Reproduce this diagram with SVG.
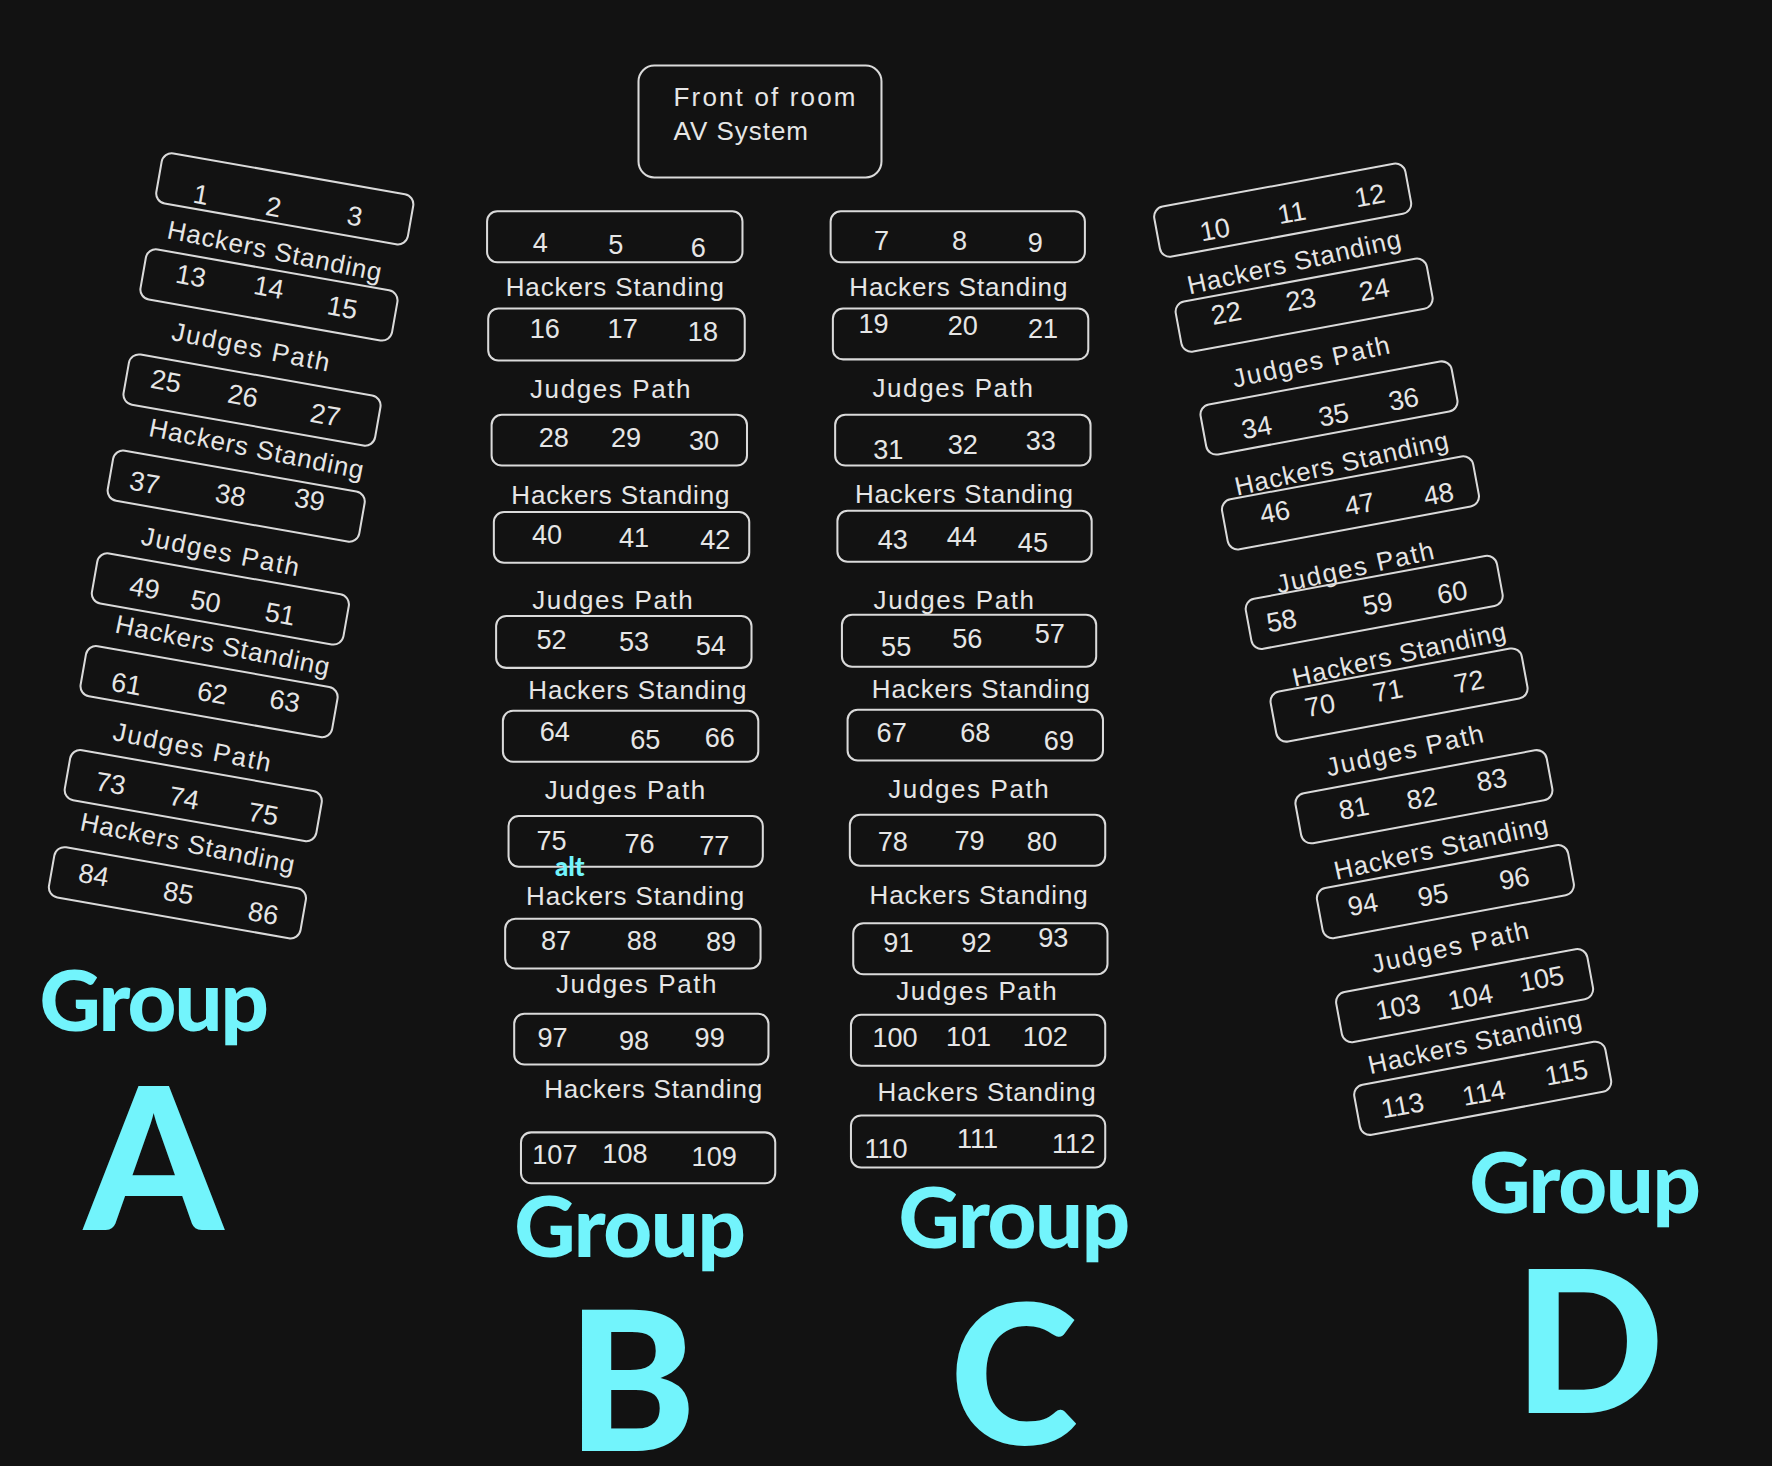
<svg xmlns="http://www.w3.org/2000/svg" width="1772" height="1466" viewBox="0 0 1772 1466">
<style>
.bx{fill:none;stroke:#dadada;stroke-width:1.8}
.n{font-family:"Liberation Sans","DejaVu Sans",sans-serif;font-size:24px;fill:#e6e6e6;text-anchor:middle;dominant-baseline:central}
.lb{font-family:"Liberation Sans","DejaVu Sans",sans-serif;font-size:23px;fill:#e6e6e6;text-anchor:middle;dominant-baseline:central}
.fr{font-family:"Liberation Sans","DejaVu Sans",sans-serif;font-size:23px;fill:#e6e6e6;dominant-baseline:central}
.g{font-family:"Lato","Liberation Sans",sans-serif;font-weight:900;fill:#72f4fc}
</style>
<rect width="1772" height="1466" fill="#121212"/>
<g id="connectors"/>
<g transform="scale(1.1301)">
<g id="front">
<rect class="bx" x="565" y="58" width="215" height="99" rx="14"/>
<text class="fr" x="596" y="86" textLength="161">Front of room</text>
<text class="fr" x="596" y="116" textLength="119">AV System</text>
</g>

<!-- Column B -->
<g id="b-4-6"><rect class="bx" x="431" y="187" width="226" height="45" rx="9"/><text class="n" x="478" y="215">4</text><text class="n" x="545" y="216">5</text><text class="n" x="618" y="219">6</text></g>
<g id="b-l1"><text class="lb" x="544" y="254" textLength="193">Hackers Standing</text></g>
<g id="b-16-18"><rect class="bx" x="432" y="273" width="227" height="46" rx="9"/><text class="n" x="482" y="291">16</text><text class="n" x="551" y="291">17</text><text class="n" x="622" y="293">18</text></g>
<g id="b-l2"><text class="lb" x="540" y="344" textLength="142">Judges Path</text></g>
<g id="b-28-30"><rect class="bx" x="435" y="367" width="226" height="45" rx="9"/><text class="n" x="490" y="387">28</text><text class="n" x="554" y="387">29</text><text class="n" x="623" y="390">30</text></g>
<g id="b-l3"><text class="lb" x="549" y="438" textLength="193">Hackers Standing</text></g>
<g id="b-40-42"><rect class="bx" x="437" y="453" width="226" height="45" rx="9"/><text class="n" x="484" y="473">40</text><text class="n" x="561" y="476">41</text><text class="n" x="633" y="477">42</text></g>
<g id="b-l4"><text class="lb" x="542" y="531" textLength="142">Judges Path</text></g>
<g id="b-52-54"><rect class="bx" x="439" y="545" width="226" height="46" rx="9"/><text class="n" x="488" y="566">52</text><text class="n" x="561" y="568">53</text><text class="n" x="629" y="571">54</text></g>
<g id="b-l5"><text class="lb" x="564" y="611" textLength="193">Hackers Standing</text></g>
<g id="b-64-66"><rect class="bx" x="445" y="629" width="226" height="45" rx="9"/><text class="n" x="491" y="647">64</text><text class="n" x="571" y="654">65</text><text class="n" x="637" y="653">66</text></g>
<g id="b-l6"><text class="lb" x="553" y="699" textLength="142">Judges Path</text></g>
<g id="b-75-77"><rect class="bx" x="450" y="722" width="225" height="45" rx="9"/><text class="n" x="488" y="744">75</text><text class="n" x="566" y="746">76</text><text class="n" x="632" y="748">77</text></g>
<g id="alt"><text x="491" y="775" font-family="Lato,'Liberation Sans',sans-serif" font-weight="900" font-size="23" fill="#72f4fc">alt</text></g>
<g id="b-l7"><text class="lb" x="562" y="793" textLength="193">Hackers Standing</text></g>
<g id="b-87-89"><rect class="bx" x="447" y="813" width="226" height="44" rx="9"/><text class="n" x="492" y="832">87</text><text class="n" x="568" y="832">88</text><text class="n" x="638" y="833">89</text></g>
<g id="b-l8"><text class="lb" x="563" y="871" textLength="142">Judges Path</text></g>
<g id="b-97-99"><rect class="bx" x="455" y="897" width="225" height="45" rx="9"/><text class="n" x="489" y="918">97</text><text class="n" x="561" y="921">98</text><text class="n" x="628" y="918">99</text></g>
<g id="b-l9"><text class="lb" x="578" y="964" textLength="193">Hackers Standing</text></g>
<g id="b-107-109"><rect class="bx" x="461" y="1002" width="225" height="45" rx="9"/><text class="n" x="491" y="1022">107</text><text class="n" x="553" y="1021">108</text><text class="n" x="632" y="1023">109</text></g>

<!-- Column C -->
<g id="c-7-9"><rect class="bx" x="735" y="187" width="225" height="45" rx="9"/><text class="n" x="780" y="213">7</text><text class="n" x="849" y="213">8</text><text class="n" x="916" y="215">9</text></g>
<g id="c-l1"><text class="lb" x="848" y="254" textLength="193">Hackers Standing</text></g>
<g id="c-19-21"><rect class="bx" x="737" y="273" width="226" height="45" rx="9"/><text class="n" x="773" y="286">19</text><text class="n" x="852" y="288">20</text><text class="n" x="923" y="291">21</text></g>
<g id="c-l2"><text class="lb" x="843" y="343" textLength="142">Judges Path</text></g>
<g id="c-31-33"><rect class="bx" x="739" y="367" width="226" height="45" rx="9"/><text class="n" x="786" y="398">31</text><text class="n" x="852" y="393">32</text><text class="n" x="921" y="390">33</text></g>
<g id="c-l3"><text class="lb" x="853" y="437" textLength="193">Hackers Standing</text></g>
<g id="c-43-45"><rect class="bx" x="741" y="452" width="225" height="45" rx="9"/><text class="n" x="790" y="477">43</text><text class="n" x="851" y="475">44</text><text class="n" x="914" y="480">45</text></g>
<g id="c-l4"><text class="lb" x="844" y="531" textLength="142">Judges Path</text></g>
<g id="c-55-57"><rect class="bx" x="745" y="544" width="225" height="46" rx="9"/><text class="n" x="793" y="572">55</text><text class="n" x="856" y="565">56</text><text class="n" x="929" y="561">57</text></g>
<g id="c-l5"><text class="lb" x="868" y="610" textLength="193">Hackers Standing</text></g>
<g id="c-67-69"><rect class="bx" x="750" y="628" width="226" height="45" rx="9"/><text class="n" x="789" y="648">67</text><text class="n" x="863" y="648">68</text><text class="n" x="937" y="655">69</text></g>
<g id="c-l6"><text class="lb" x="857" y="698" textLength="142">Judges Path</text></g>
<g id="c-78-80"><rect class="bx" x="752" y="721" width="226" height="45" rx="9"/><text class="n" x="790" y="745">78</text><text class="n" x="858" y="744">79</text><text class="n" x="922" y="745">80</text></g>
<g id="c-l7"><text class="lb" x="866" y="792" textLength="193">Hackers Standing</text></g>
<g id="c-91-93"><rect class="bx" x="755" y="817" width="225" height="45" rx="9"/><text class="n" x="795" y="834">91</text><text class="n" x="864" y="834">92</text><text class="n" x="932" y="830">93</text></g>
<g id="c-l8"><text class="lb" x="864" y="877" textLength="142">Judges Path</text></g>
<g id="c-100-102"><rect class="bx" x="753" y="898" width="225" height="45" rx="9"/><text class="n" x="792" y="918">100</text><text class="n" x="857" y="917">101</text><text class="n" x="925" y="917">102</text></g>
<g id="c-l9"><text class="lb" x="873" y="966" textLength="193">Hackers Standing</text></g>
<g id="c-110-112"><rect class="bx" x="753" y="987" width="225" height="46" rx="9"/><text class="n" x="784" y="1016">110</text><text class="n" x="865" y="1007">111</text><text class="n" x="950" y="1012">112</text></g>

<!-- Column A (tilted) -->
<g id="a-1-3"><rect class="bx" x="-113" y="-22.5" width="226" height="45" rx="9" transform="translate(252,176) rotate(10)"/><text class="n" x="178" y="172" transform="rotate(10 178 172)">1</text><text class="n" x="242" y="183" transform="rotate(10 242 183)">2</text><text class="n" x="314" y="191" transform="rotate(10 314 191)">3</text></g>
<g id="a-l1"><text class="lb" x="243" y="222" textLength="193" transform="rotate(11.5 243 222)">Hackers Standing</text></g>
<g id="a-13-15"><rect class="bx" x="-113" y="-22.5" width="226" height="45" rx="9" transform="translate(238,261) rotate(10)"/><text class="n" x="169" y="244" transform="rotate(10 169 244)">13</text><text class="n" x="238" y="254" transform="rotate(10 238 254)">14</text><text class="n" x="303" y="272" transform="rotate(10 303 272)">15</text></g>
<g id="a-l2"><text class="lb" x="222" y="307" textLength="142" transform="rotate(11.5 222 307)">Judges Path</text></g>
<g id="a-25-27"><rect class="bx" x="-113" y="-22.5" width="226" height="45" rx="9" transform="translate(223,354) rotate(10)"/><text class="n" x="147" y="337" transform="rotate(10 147 337)">25</text><text class="n" x="215" y="350" transform="rotate(10 215 350)">26</text><text class="n" x="288" y="367" transform="rotate(10 288 367)">27</text></g>
<g id="a-l3"><text class="lb" x="227" y="397" textLength="193" transform="rotate(11.5 227 397)">Hackers Standing</text></g>
<g id="a-37-39"><rect class="bx" x="-113" y="-22.5" width="226" height="45" rx="9" transform="translate(209,439) rotate(10)"/><text class="n" x="128" y="427" transform="rotate(10 128 427)">37</text><text class="n" x="204" y="438" transform="rotate(10 204 438)">38</text><text class="n" x="274" y="442" transform="rotate(10 274 442)">39</text></g>
<g id="a-l4"><text class="lb" x="195" y="488" textLength="142" transform="rotate(11.5 195 488)">Judges Path</text></g>
<g id="a-49-51"><rect class="bx" x="-113" y="-22.5" width="226" height="45" rx="9" transform="translate(195,530) rotate(10)"/><text class="n" x="128" y="520" transform="rotate(10 128 520)">49</text><text class="n" x="182" y="532" transform="rotate(10 182 532)">50</text><text class="n" x="248" y="543" transform="rotate(10 248 543)">51</text></g>
<g id="a-l5"><text class="lb" x="197" y="571" textLength="193" transform="rotate(11.5 197 571)">Hackers Standing</text></g>
<g id="a-61-63"><rect class="bx" x="-113" y="-22.5" width="226" height="45" rx="9" transform="translate(185,612) rotate(10)"/><text class="n" x="112" y="605" transform="rotate(10 112 605)">61</text><text class="n" x="188" y="613" transform="rotate(10 188 613)">62</text><text class="n" x="252" y="620" transform="rotate(10 252 620)">63</text></g>
<g id="a-l6"><text class="lb" x="170" y="661" textLength="142" transform="rotate(11.5 170 661)">Judges Path</text></g>
<g id="a-73-75"><rect class="bx" x="-113" y="-22.5" width="226" height="45" rx="9" transform="translate(171,704) rotate(10)"/><text class="n" x="98" y="693" transform="rotate(10 98 693)">73</text><text class="n" x="163" y="706" transform="rotate(10 163 706)">74</text><text class="n" x="233" y="720" transform="rotate(10 233 720)">75</text></g>
<g id="a-l7"><text class="lb" x="166" y="746" textLength="193" transform="rotate(11.5 166 746)">Hackers Standing</text></g>
<g id="a-84-86"><rect class="bx" x="-113" y="-22.5" width="226" height="45" rx="9" transform="translate(157,790) rotate(10)"/><text class="n" x="83" y="774" transform="rotate(10 83 774)">84</text><text class="n" x="158" y="790" transform="rotate(10 158 790)">85</text><text class="n" x="233" y="808" transform="rotate(10 233 808)">86</text></g>

<!-- Column D (tilted) -->
<g id="d-10-12"><rect class="bx" x="-113" y="-22.5" width="226" height="45" rx="9" transform="translate(1135,186) rotate(-10.5)"/><text class="n" x="1075" y="203" transform="rotate(-10.5 1075 203)">10</text><text class="n" x="1143" y="188" transform="rotate(-10.5 1143 188)">11</text><text class="n" x="1212" y="173" transform="rotate(-10.5 1212 173)">12</text></g>
<g id="d-l1"><text class="lb" x="1145" y="232" textLength="193" transform="rotate(-12.5 1145 232)">Hackers Standing</text></g>
<g id="d-22-24"><rect class="bx" x="-113" y="-22.5" width="226" height="45" rx="9" transform="translate(1154,270) rotate(-10.5)"/><text class="n" x="1085" y="277" transform="rotate(-10.5 1085 277)">22</text><text class="n" x="1151" y="265" transform="rotate(-10.5 1151 265)">23</text><text class="n" x="1216" y="256" transform="rotate(-10.5 1216 256)">24</text></g>
<g id="d-l2"><text class="lb" x="1160" y="320" textLength="142" transform="rotate(-12.5 1160 320)">Judges Path</text></g>
<g id="d-34-36"><rect class="bx" x="-113" y="-22.5" width="226" height="45" rx="9" transform="translate(1176,361) rotate(-10.5)"/><text class="n" x="1112" y="378" transform="rotate(-10.5 1112 378)">34</text><text class="n" x="1180" y="367" transform="rotate(-10.5 1180 367)">35</text><text class="n" x="1242" y="353" transform="rotate(-10.5 1242 353)">36</text></g>
<g id="d-l3"><text class="lb" x="1187" y="410" textLength="193" transform="rotate(-12.5 1187 410)">Hackers Standing</text></g>
<g id="d-46-48"><rect class="bx" x="-113" y="-22.5" width="226" height="45" rx="9" transform="translate(1195,445) rotate(-10.5)"/><text class="n" x="1128" y="453" transform="rotate(-10.5 1128 453)">46</text><text class="n" x="1203" y="446" transform="rotate(-10.5 1203 446)">47</text><text class="n" x="1273" y="437" transform="rotate(-10.5 1273 437)">48</text></g>
<g id="d-l4"><text class="lb" x="1199" y="502" textLength="142" transform="rotate(-12.5 1199 502)">Judges Path</text></g>
<g id="d-58-60"><rect class="bx" x="-113" y="-22.5" width="226" height="45" rx="9" transform="translate(1216,533) rotate(-10.5)"/><text class="n" x="1134" y="549" transform="rotate(-10.5 1134 549)">58</text><text class="n" x="1219" y="534" transform="rotate(-10.5 1219 534)">59</text><text class="n" x="1285" y="524" transform="rotate(-10.5 1285 524)">60</text></g>
<g id="d-l5"><text class="lb" x="1238" y="579" textLength="193" transform="rotate(-12.5 1238 579)">Hackers Standing</text></g>
<g id="d-70-72"><rect class="bx" x="-113" y="-22.5" width="226" height="45" rx="9" transform="translate(1238,615) rotate(-10.5)"/><text class="n" x="1168" y="624" transform="rotate(-10.5 1168 624)">70</text><text class="n" x="1228" y="611" transform="rotate(-10.5 1228 611)">71</text><text class="n" x="1300" y="603" transform="rotate(-10.5 1300 603)">72</text></g>
<g id="d-l6"><text class="lb" x="1243" y="664" textLength="142" transform="rotate(-12.5 1243 664)">Judges Path</text></g>
<g id="d-81-83"><rect class="bx" x="-113" y="-22.5" width="226" height="45" rx="9" transform="translate(1260,705) rotate(-10.5)"/><text class="n" x="1198" y="715" transform="rotate(-10.5 1198 715)">81</text><text class="n" x="1258" y="706" transform="rotate(-10.5 1258 706)">82</text><text class="n" x="1320" y="690" transform="rotate(-10.5 1320 690)">83</text></g>
<g id="d-l7"><text class="lb" x="1275" y="750" textLength="193" transform="rotate(-12.5 1275 750)">Hackers Standing</text></g>
<g id="d-94-96"><rect class="bx" x="-113" y="-22.5" width="226" height="45" rx="9" transform="translate(1279,789) rotate(-10.5)"/><text class="n" x="1206" y="800" transform="rotate(-10.5 1206 800)">94</text><text class="n" x="1268" y="792" transform="rotate(-10.5 1268 792)">95</text><text class="n" x="1340" y="777" transform="rotate(-10.5 1340 777)">96</text></g>
<g id="d-l8"><text class="lb" x="1283" y="838" textLength="142" transform="rotate(-12.5 1283 838)">Judges Path</text></g>
<g id="d-103-105"><rect class="bx" x="-113" y="-22.5" width="226" height="45" rx="9" transform="translate(1296,881) rotate(-10.5)"/><text class="n" x="1237" y="891" transform="rotate(-10.5 1237 891)">103</text><text class="n" x="1301" y="882" transform="rotate(-10.5 1301 882)">104</text><text class="n" x="1364" y="866" transform="rotate(-10.5 1364 866)">105</text></g>
<g id="d-l9"><text class="lb" x="1305" y="922" textLength="193" transform="rotate(-12.5 1305 922)">Hackers Standing</text></g>
<g id="d-113-115"><rect class="bx" x="-113" y="-22.5" width="226" height="45" rx="9" transform="translate(1312,963) rotate(-10.5)"/><text class="n" x="1241" y="978" transform="rotate(-10.5 1241 978)">113</text><text class="n" x="1313" y="967" transform="rotate(-10.5 1313 967)">114</text><text class="n" x="1386" y="949" transform="rotate(-10.5 1386 949)">115</text></g>

<!-- Group labels -->
<g id="group-a"><text class="g" x="35" y="912" font-size="75" textLength="203">Group</text><text class="g" x="136" y="1088" font-size="175" text-anchor="middle">A</text></g>
<g id="group-b"><text class="g" x="455" y="1112" font-size="75" textLength="205">Group</text><text class="g" x="559" y="1284" font-size="172" text-anchor="middle">B</text></g>
<g id="group-c"><text class="g" x="795" y="1104" font-size="75" textLength="205">Group</text><text class="g" x="897" y="1278" font-size="172" text-anchor="middle">C</text></g>
<g id="group-d"><text class="g" x="1300" y="1073" font-size="75" textLength="205">Group</text><text class="g" x="1406" y="1250" font-size="175" text-anchor="middle">D</text></g>
</g>
</svg>
